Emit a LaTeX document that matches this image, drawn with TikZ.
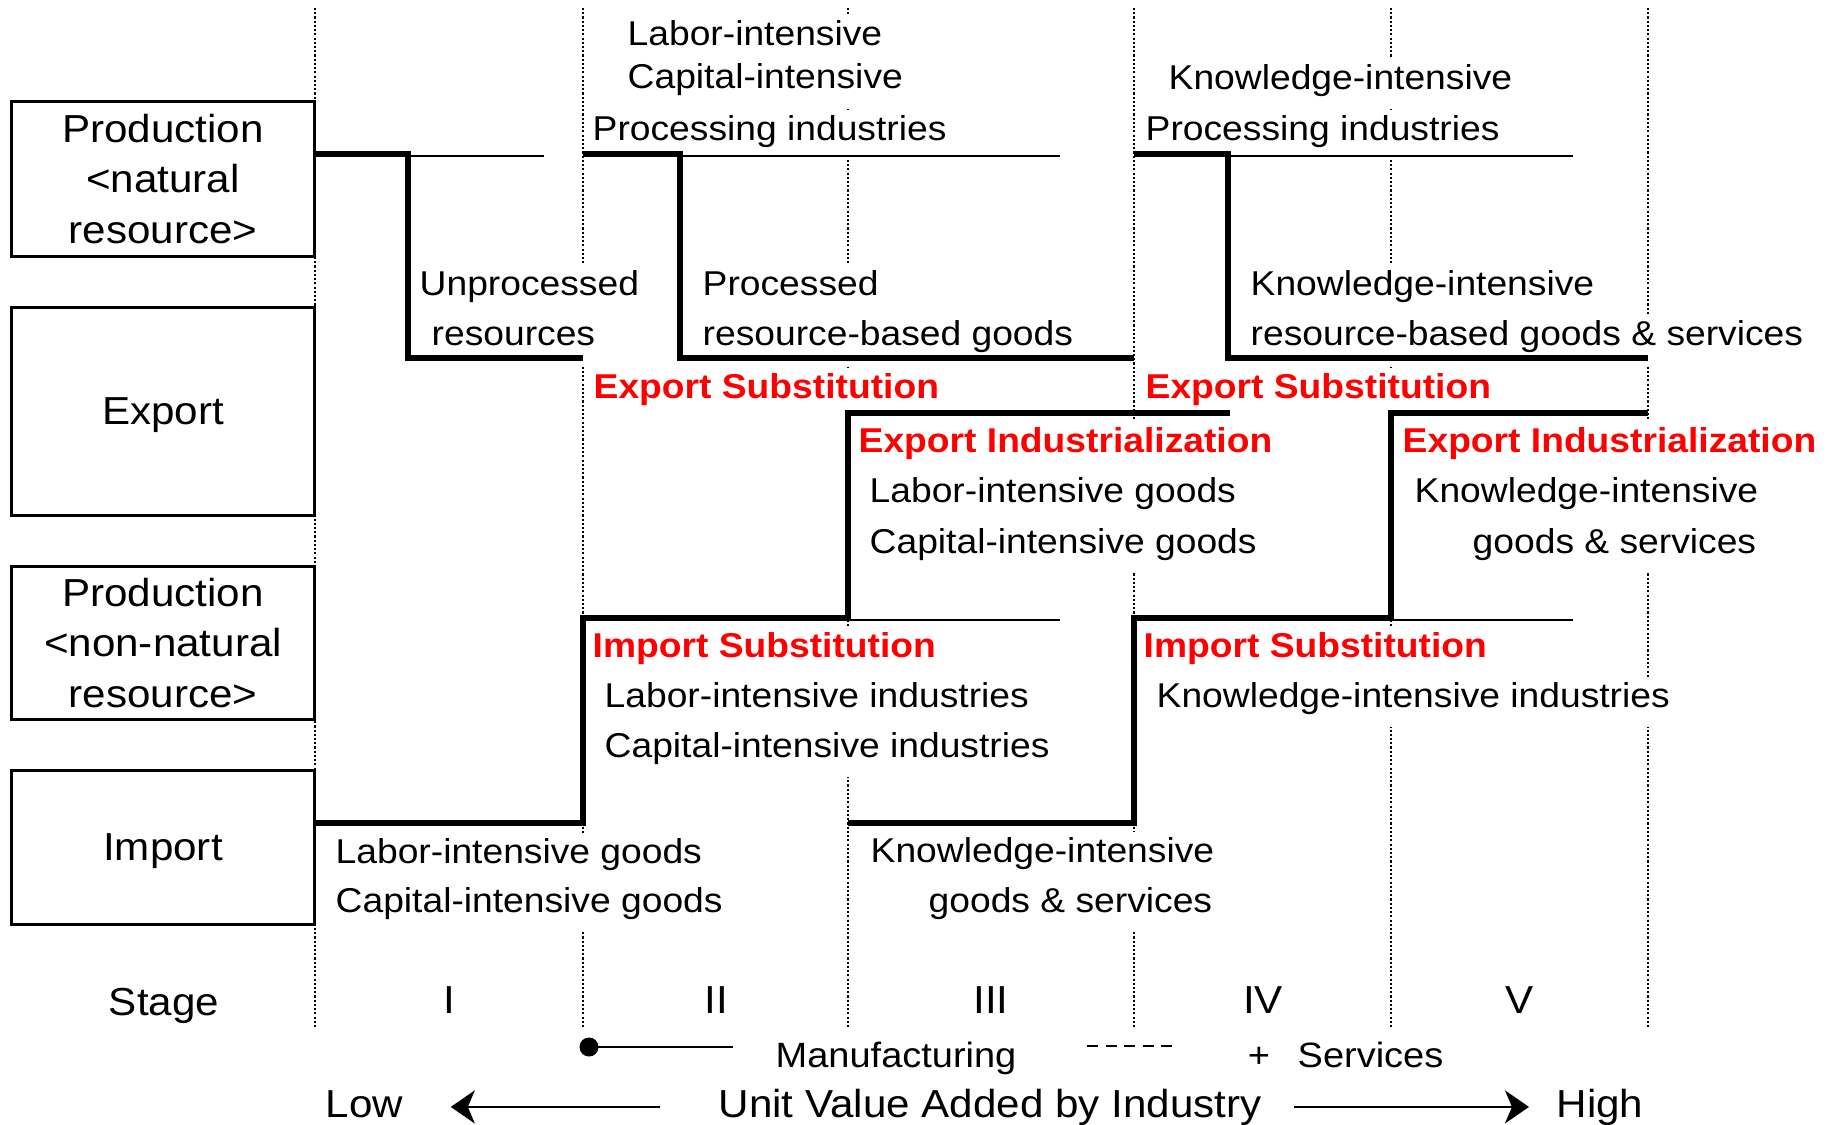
\documentclass[tikz,border=0pt]{standalone}
\usepackage{fontspec}
\setmainfont{Liberation Sans}[FakeStretch=1.08]
\usetikzlibrary{arrows.meta, positioning}

\newcommand{\bodyfont}{\fontsize{9.8}{12}\selectfont}
\newcommand{\boxfont}{\fontsize{11.1}{14.4}\selectfont}
\newcommand{\legfont}{\fontsize{10}{12}\selectfont}

\begin{document}
\begin{tikzpicture}[
  x=0.01cm, y=-0.01cm,
  >={Stealth[length=2.4mm, width=3.3mm, inset=0.7mm]},
  rowbox/.style={draw, rectangle, line width=0.8pt, minimum width=3.03cm, inner sep=0pt, align=center, font=\boxfont},
  txt/.style={anchor=base west, fill=white, inner xsep=0pt, inner ysep=0pt, text height=3mm, text depth=2mm, font=\bodyfont},
  hl/.style={txt, text=red, font=\bodyfont\bfseries},
  stage/.style={anchor=base, inner sep=0pt, font=\boxfont},
  legend/.style={anchor=base west, inner sep=0pt, font=\legfont},
  stair/.style={line width=1.6pt},
  tail/.style={line width=0.7pt},
  sep/.style={line width=0.8pt, dash pattern=on 0.6pt off 0.6pt},
  valarrow/.style={->, line width=0.75pt}
]
\useasboundingbox (0,0) rectangle (1837,1124);

% stage boundaries
\foreach \x in {315,583,848,1134,1391,1648}
  \draw[sep] (\x,8) -- (\x,1027);

% row headings
\node[rowbox, minimum height=1.55cm] (prodnat) at (163,179) {Production\\<natural\\resource>};
\node[rowbox, minimum height=2.08cm, text depth=0pt, below=0.48cm of prodnat] (export) {Export};
\node[rowbox, minimum height=1.53cm, below=0.48cm of export] (prodnon) {Production\\<non-natural\\resource>};
\node[rowbox, minimum height=1.54cm, text depth=0pt, below=0.48cm of prodnon] (import) {Import};

% stages
\node[stage] (stage) at (164,1015) {Stage};
\foreach \n/\x in {I/449, II/716, III/991, IV/1263, V/1520}
  \node[stage] (st\n) at (\x,1013) {\n};

% processing industries
\node[txt] (labproc)  at (627,45)   {Labor-intensive};
\node[txt] (capproc)  at (627,88)   {Capital-intensive};
\node[txt] (proc1)    at (592,140)  {Processing industries};
\node[txt] (knowproc) at (1168,89)  {Knowledge-intensive};
\node[txt] (proc2)    at (1145,140) {Processing industries};

% resource exports
\node[txt] (unproc)  at (419,295)  {Unprocessed};
\node[txt] (unres)   at (431,345)  {resources};
\node[txt] (procd)   at (702,295)  {Processed};
\node[txt] (procres) at (702,345)  {resource-based goods};
\node[txt] (knowres) at (1250,295) {Knowledge-intensive};
\node[txt] (knowgs)  at (1250,345) {resource-based goods \& services};

% export side
\node[hl]  (exsub1) at (593,398)  {Export Substitution};
\node[hl]  (exsub2) at (1145,398) {Export Substitution};
\node[hl]  (exind1) at (858,452)  {Export Industrialization};
\node[hl]  (exind2) at (1402,452) {Export Industrialization};
\node[txt] (exlab)  at (869,502)  {Labor-intensive goods};
\node[txt] (excap)  at (869,553)  {Capital-intensive goods};
\node[txt] (exknow) at (1414,502) {Knowledge-intensive};
\node[txt] (exgs)   at (1472,553) {goods \& services};

% import side
\node[hl]  (imsub1)    at (592,657)  {Import Substitution};
\node[hl]  (imsub2)    at (1143,657) {Import Substitution};
\node[txt] (imlabind)  at (604,707)  {Labor-intensive industries};
\node[txt] (imcapind)  at (604,757)  {Capital-intensive industries};
\node[txt] (imknowind) at (1156,707) {Knowledge-intensive industries};
\node[txt] (imlab)     at (335,863)  {Labor-intensive goods};
\node[txt] (imcap)     at (335,912)  {Capital-intensive goods};
\node[txt] (imknow)    at (870,862)  {Knowledge-intensive};
\node[txt] (imgs)      at (928,912)  {goods \& services};

% staircases
\draw[stair] (315,154) -- (408,154) -- (408,358) -- (583,358);
\draw[tail]  (408,156) -- (544,156);
\draw[stair] (583,154) -- (680,154) -- (680,358) -- (1134,358);
\draw[tail]  (680,156) -- (1060,156);
\draw[stair] (1134,154) -- (1228,154) -- (1228,358) -- (1648,358);
\draw[tail]  (1228,156) -- (1573,156);
\draw[stair] (315,823) -- (583,823) -- (583,618) -- (848,618) -- (848,413) -- (1230,413);
\draw[tail]  (848,620) -- (1060,620);
\draw[stair] (848,823) -- (1134,823) -- (1134,618) -- (1391,618) -- (1391,413) -- (1648,413);
\draw[tail]  (1391,620) -- (1573,620);

% legend
\node[circle, fill, inner sep=0pt, minimum size=1.9mm] (mdot) at (589,1047) {};
\coordinate (mend) at (733,1047);
\draw[tail] (mdot.center) -- (mend);
\node[legend] (manuf) at (775,1067) {Manufacturing};
\draw[tail, dash pattern=on 1.1mm off 0.75mm] (1087,1046) -- (1172,1046);
\node[anchor=base, inner sep=0pt, font=\legfont] (plus) at (1259,1067) {+};
\node[legend] (serv) at (1297,1067) {Services};

% value added axis
\node[legend, font=\boxfont] (low)  at (325,1117)  {Low};
\node[legend, font=\boxfont] (uva)  at (718,1117)  {Unit Value Added by Industry};
\node[legend, font=\boxfont] (high) at (1556,1117) {High};
\coordinate (lowtip)  at ([xshift=4.7mm]low.east);
\coordinate (hightip) at ([xshift=-2.7mm]high.west);
\draw[valarrow] ([xshift=-5.8mm]uva.west) -- (lowtip |- uva.west);
\draw[valarrow] ([xshift=3.2mm]uva.east) -- (hightip |- uva.east);
\end{tikzpicture}
\end{document}
